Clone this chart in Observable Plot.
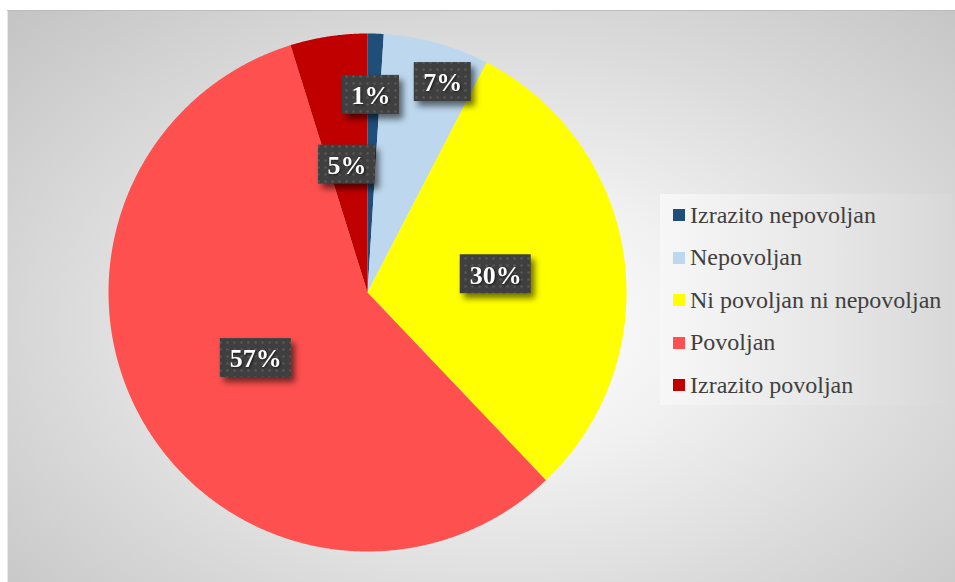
<!DOCTYPE html>
<html><head><meta charset="utf-8">
<script src="https://cdn.jsdelivr.net/npm/d3@7"></script>
<script src="https://cdn.jsdelivr.net/npm/@observablehq/plot@0.6"></script>
<style>
html,body{margin:0;padding:0;background:#fff;width:955px;height:582px;overflow:hidden;}
#frame{position:absolute;left:7px;top:10px;width:948px;height:572px;overflow:hidden;
  background:radial-gradient(ellipse 72% 78% at 52% 55%, #ffffff 0%, #f1f1f1 30%, #dadada 65%, #c4c4c4 100%);
  box-shadow:inset 0 1px 0 #bcbcbc, inset 1px 0 0 #e8e8e8;}
#chart{position:absolute;left:0;top:0;}
#chart svg{background:transparent;overflow:visible;}
#chart g[aria-label="rect"]{filter:drop-shadow(4px 5px 3px rgba(0,0,0,0.55));}
#chart g[aria-label="text"]{filter:drop-shadow(1px 1px 1px rgba(0,0,0,0.6));}
#legend{position:absolute;left:653px;top:184px;width:292px;height:211px;
  background:linear-gradient(to right,#f7f7f7,#e6e6e6 60%,#d8d8d8);}
.lg-swatches{font-family:"Liberation Serif","Times New Roman",serif;font-size:24px;color:#404040;margin:0;padding-left:13px;}
.lg-swatch{height:42.5px;padding-bottom:0;}
.lg-swatch > svg{margin-right:5px;}
</style>
</head><body>
<div id="frame"><div id="chart"></div><div id="legend"></div></div>
<script>
// ---- data ----
const categories = ["Izrazito nepovoljan", "Nepovoljan", "Ni povoljan ni nepovoljan", "Povoljan", "Izrazito povoljan"];
const values = [1.0, 6.6, 30.3, 57.3, 4.8];
const labels = ["1%", "7%", "30%", "57%", "5%"];
const colors = ["#1F4E79", "#BDD7EE", "#FFFF00", "#FF5050", "#C00000"];

// ---- layout ----
const W = 948, H = 572, R = 259, CX = 360, CY = 282;
const labelRadius = [0.763, 0.863, 0.5, 0.5, 0.5];
const labelAngleShift = [-0.8, 4.2, 0, 0, -0.5];
const boxH = 39, boxW2 = 57, boxW3 = 71;

const total = d3.sum(values);
let cum = 0;
const slicePts = [];
const labelRows = [];
categories.forEach((cat, i) => {
  const a0 = cum / total * 360;
  cum += values[i];
  const a1 = cum / total * 360;
  slicePts.push({cat, x: 0, y: 0});
  const n = Math.max(2, Math.ceil((a1 - a0) / 0.25));
  for (let k = 0; k <= n; k++) {
    const a = (a0 + (a1 - a0) * k / n) * Math.PI / 180;
    slicePts.push({cat, x: Math.sin(a), y: Math.cos(a)});
  }
  const am = ((a0 + a1) / 2 + labelAngleShift[i]) * Math.PI / 180;
  const lx = labelRadius[i] * Math.sin(am), ly = labelRadius[i] * Math.cos(am);
  const bw = (labels[i].length > 2 ? boxW3 : boxW2) / R / 2, bh = boxH / R / 2;
  labelRows.push({cat, text: labels[i], x: lx, y: ly, x1: lx - bw, x2: lx + bw, y1: ly - bh, y2: ly + bh});
});

const chart = Plot.plot({
  width: W, height: H,
  marginTop: 0, marginRight: 0, marginBottom: 0, marginLeft: 0,
  x: {domain: [-CX / R, (W - CX) / R], range: [0, W], axis: null},
  y: {domain: [-(H - CY) / R, CY / R], range: [H, 0], axis: null},
  color: {type: "ordinal", domain: categories, range: colors},
  style: {background: "transparent"},
  marks: [
    Plot.line(slicePts, {x: "x", y: "y", z: "cat", fill: "cat", stroke: "none", curve: "linear"}),
    Plot.rect(labelRows, {x1: "x1", x2: "x2", y1: "y1", y2: "y2", fill: "url(#dotpat)"}),
    Plot.text(labelRows, {x: "x", y: "y", text: "text", fill: "white", fontSize: 26, fontWeight: "bold",
      fontFamily: "Liberation Serif, Times New Roman, serif", dy: 1})
  ]
});

const svg = d3.select(chart);
const defs = svg.insert("defs", ":first-child");
const pat = defs.append("pattern").attr("id", "dotpat").attr("patternUnits", "userSpaceOnUse")
  .attr("width", 7).attr("height", 7);
pat.append("rect").attr("width", 7).attr("height", 7).attr("fill", "#3f3f3f");
pat.append("circle").attr("cx", 3.5).attr("cy", 3.5).attr("r", 1.3).attr("fill", "#575757");
document.getElementById("chart").appendChild(chart);

const legend = Plot.legend({
  color: {type: "ordinal", domain: categories, range: colors},
  legend: "swatches", columns: 1, swatchSize: 12, className: "lg"
});
document.getElementById("legend").appendChild(legend);
</script>
</body></html>
